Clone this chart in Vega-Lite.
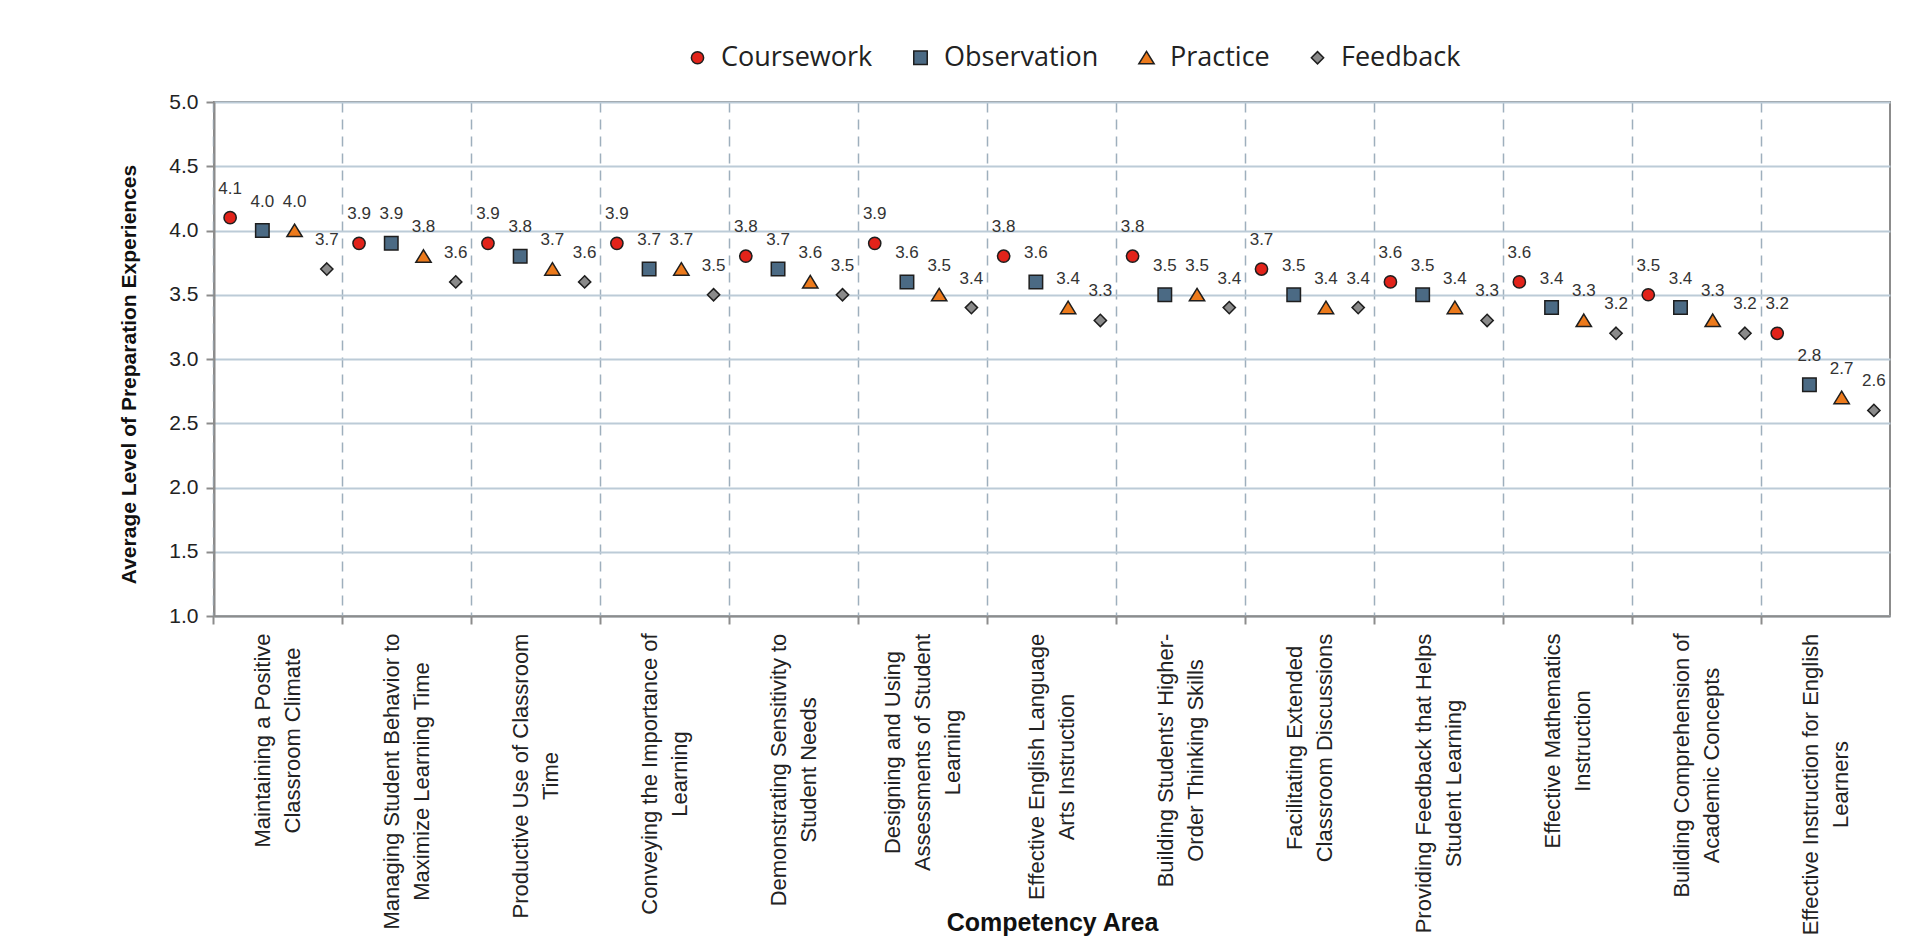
{
  "$schema": "https://vega.github.io/schema/vega-lite/v6.json",
  "width": 1676,
  "height": 514,
  "autosize": {"type": "none"},
  "padding": {"left": 214, "top": 102, "right": 31, "bottom": 326},
  "background": "white",
  "config": {
    "font": "Liberation Sans",
    "view": {"stroke": "#8c8c8c", "strokeWidth": 2}
  },
  "data": {
    "values": [
      {"area": "Maintaining a Positive|Classroom Climate", "series": "Coursework", "value": 4.1},
      {"area": "Maintaining a Positive|Classroom Climate", "series": "Observation", "value": 4.0},
      {"area": "Maintaining a Positive|Classroom Climate", "series": "Practice", "value": 4.0},
      {"area": "Maintaining a Positive|Classroom Climate", "series": "Feedback", "value": 3.7},
      {"area": "Managing Student Behavior to|Maximize Learning Time", "series": "Coursework", "value": 3.9},
      {"area": "Managing Student Behavior to|Maximize Learning Time", "series": "Observation", "value": 3.9},
      {"area": "Managing Student Behavior to|Maximize Learning Time", "series": "Practice", "value": 3.8},
      {"area": "Managing Student Behavior to|Maximize Learning Time", "series": "Feedback", "value": 3.6},
      {"area": "Productive Use of Classroom|Time", "series": "Coursework", "value": 3.9},
      {"area": "Productive Use of Classroom|Time", "series": "Observation", "value": 3.8},
      {"area": "Productive Use of Classroom|Time", "series": "Practice", "value": 3.7},
      {"area": "Productive Use of Classroom|Time", "series": "Feedback", "value": 3.6},
      {"area": "Conveying the Importance of|Learning", "series": "Coursework", "value": 3.9},
      {"area": "Conveying the Importance of|Learning", "series": "Observation", "value": 3.7},
      {"area": "Conveying the Importance of|Learning", "series": "Practice", "value": 3.7},
      {"area": "Conveying the Importance of|Learning", "series": "Feedback", "value": 3.5},
      {"area": "Demonstrating Sensitivity to|Student Needs", "series": "Coursework", "value": 3.8},
      {"area": "Demonstrating Sensitivity to|Student Needs", "series": "Observation", "value": 3.7},
      {"area": "Demonstrating Sensitivity to|Student Needs", "series": "Practice", "value": 3.6},
      {"area": "Demonstrating Sensitivity to|Student Needs", "series": "Feedback", "value": 3.5},
      {"area": "Designing and Using|Assessments of Student|Learning", "series": "Coursework", "value": 3.9},
      {"area": "Designing and Using|Assessments of Student|Learning", "series": "Observation", "value": 3.6},
      {"area": "Designing and Using|Assessments of Student|Learning", "series": "Practice", "value": 3.5},
      {"area": "Designing and Using|Assessments of Student|Learning", "series": "Feedback", "value": 3.4},
      {"area": "Effective English Language|Arts Instruction", "series": "Coursework", "value": 3.8},
      {"area": "Effective English Language|Arts Instruction", "series": "Observation", "value": 3.6},
      {"area": "Effective English Language|Arts Instruction", "series": "Practice", "value": 3.4},
      {"area": "Effective English Language|Arts Instruction", "series": "Feedback", "value": 3.3},
      {"area": "Building Students' Higher-|Order Thinking Skills", "series": "Coursework", "value": 3.8},
      {"area": "Building Students' Higher-|Order Thinking Skills", "series": "Observation", "value": 3.5},
      {"area": "Building Students' Higher-|Order Thinking Skills", "series": "Practice", "value": 3.5},
      {"area": "Building Students' Higher-|Order Thinking Skills", "series": "Feedback", "value": 3.4},
      {"area": "Facilitating Extended|Classroom Discussions", "series": "Coursework", "value": 3.7},
      {"area": "Facilitating Extended|Classroom Discussions", "series": "Observation", "value": 3.5},
      {"area": "Facilitating Extended|Classroom Discussions", "series": "Practice", "value": 3.4},
      {"area": "Facilitating Extended|Classroom Discussions", "series": "Feedback", "value": 3.4},
      {"area": "Providing Feedback that Helps|Student Learning", "series": "Coursework", "value": 3.6},
      {"area": "Providing Feedback that Helps|Student Learning", "series": "Observation", "value": 3.5},
      {"area": "Providing Feedback that Helps|Student Learning", "series": "Practice", "value": 3.4},
      {"area": "Providing Feedback that Helps|Student Learning", "series": "Feedback", "value": 3.3},
      {"area": "Effective Mathematics|Instruction", "series": "Coursework", "value": 3.6},
      {"area": "Effective Mathematics|Instruction", "series": "Observation", "value": 3.4},
      {"area": "Effective Mathematics|Instruction", "series": "Practice", "value": 3.3},
      {"area": "Effective Mathematics|Instruction", "series": "Feedback", "value": 3.2},
      {"area": "Building Comprehension of|Academic Concepts", "series": "Coursework", "value": 3.5},
      {"area": "Building Comprehension of|Academic Concepts", "series": "Observation", "value": 3.4},
      {"area": "Building Comprehension of|Academic Concepts", "series": "Practice", "value": 3.3},
      {"area": "Building Comprehension of|Academic Concepts", "series": "Feedback", "value": 3.2},
      {"area": "Effective Instruction for English|Learners", "series": "Coursework", "value": 3.2},
      {"area": "Effective Instruction for English|Learners", "series": "Observation", "value": 2.8},
      {"area": "Effective Instruction for English|Learners", "series": "Practice", "value": 2.7},
      {"area": "Effective Instruction for English|Learners", "series": "Feedback", "value": 2.6}
    ]
  },
  "encoding": {
    "x": {
      "field": "area",
      "type": "nominal",
      "sort": null,
      "scale": {"type": "band", "paddingInner": 0, "paddingOuter": 0},
      "axis": {
        "bandPosition": 0,
        "labelAngle": -90,
        "labelAlign": "center",
        "labelBaseline": "middle",
        "labelExpr": "split(datum.label, '|')",
        "labelFontSize": 22,
        "labelLineHeight": 30,
        "labelOffset": {
          "condition": {"test": "indexof(datum.value, 'Designing') >= 0", "value": -30},
          "value": -15
        },
        "labelPadding": {
          "condition": [
            {"test": "indexof(datum.value, 'Maintaining') >= 0", "value": 116},
            {"test": "indexof(datum.value, 'Managing') >= 0", "value": 157},
            {"test": "indexof(datum.value, 'Productive') >= 0", "value": 151.5},
            {"test": "indexof(datum.value, 'Conveying') >= 0", "value": 149.5},
            {"test": "indexof(datum.value, 'Demonstrating') >= 0", "value": 145.5},
            {"test": "indexof(datum.value, 'Designing') >= 0", "value": 128},
            {"test": "indexof(datum.value, 'Language') >= 0", "value": 142.5},
            {"test": "indexof(datum.value, 'Higher') >= 0", "value": 136},
            {"test": "indexof(datum.value, 'Facilitating') >= 0", "value": 123.5},
            {"test": "indexof(datum.value, 'Providing') >= 0", "value": 159},
            {"test": "indexof(datum.value, 'Mathematics') >= 0", "value": 116.5},
            {"test": "indexof(datum.value, 'Comprehension') >= 0", "value": 141},
            {"test": "indexof(datum.value, 'Learners') >= 0", "value": 160}
          ],
          "value": 140
        },
        "labelLimit": 500,
        "labelOverlap": false,
        "labelColor": "#222222",
        "tickSize": 8,
        "tickColor": "#8c8c8c",
        "tickWidth": 2,
        "domainColor": "#8c8c8c",
        "domainWidth": 2,
        "grid": true,
        "gridColor": "#9eafbd",
        "gridDash": [10, 7],
        "gridWidth": 1.5,
        "title": "Competency Area",
        "titleFontSize": 25,
        "titleFontWeight": "bold",
        "titleColor": "#111111",
        "titleY": 314,
        "titleBaseline": "alphabetic"
      }
    },
    "xOffset": {
      "field": "series",
      "type": "nominal",
      "sort": ["Coursework", "Observation", "Practice", "Feedback"]
    },
    "y": {
      "field": "value",
      "type": "quantitative",
      "scale": {"domain": [1, 5], "nice": false, "zero": false},
      "axis": {
        "values": [1, 1.5, 2, 2.5, 3, 3.5, 4, 4.5, 5],
        "format": ".1f",
        "grid": true,
        "gridColor": "#bccbd7",
        "gridWidth": 2,
        "domainColor": "#8c8c8c",
        "domainWidth": 2,
        "tickColor": "#8c8c8c",
        "tickSize": 8,
        "tickWidth": 2,
        "labelFontSize": 21,
        "labelPadding": 8,
        "labelColor": "#222222",
        "title": "Average Level of Preparation Experiences",
        "titleFontSize": 21,
        "titleFontWeight": "bold",
        "titleColor": "#111111",
        "titleX": -85,
        "titleY": 272,
        "titleAlign": "center",
        "titleBaseline": "middle"
      }
    }
  },
  "layer": [
    {
      "mark": {"type": "point", "filled": true, "opacity": 1, "stroke": "#1e1e1e", "strokeWidth": 1.5, "size": 150},
      "encoding": {
        "color": {
          "field": "series",
          "type": "nominal",
          "scale": {
            "domain": ["Coursework", "Observation", "Practice", "Feedback"],
            "range": ["#e2231a", "#4b6a84", "#ec7a1c", "#8a8a8a"]
          },
          "legend": {
            "orient": "none",
            "legendX": 470,
            "legendY": -58,
            "direction": "horizontal",
            "columns": 4,
            "title": null,
            "labelFont": "Open Sans",
            "labelFontSize": 27,
            "labelColor": "#222222",
            "symbolSize": 150,
            "symbolStrokeColor": "#1e1e1e",
            "symbolStrokeWidth": 1.5,
            "labelOffset": 10,
            "columnPadding": 34
          }
        },
        "shape": {
          "field": "series",
          "type": "nominal",
          "scale": {
            "domain": ["Coursework", "Observation", "Practice", "Feedback"],
            "range": ["circle", "M-1.1,-1.1H1.1V1.1H-1.1Z", "M0,-1.05L1.25,1.0L-1.25,1.0Z", "M0,-1L1,0L0,1L-1,0Z"]
          },
          "legend": {
            "orient": "none",
            "legendX": 470,
            "legendY": -58,
            "direction": "horizontal",
            "columns": 4,
            "title": null,
            "labelFont": "Open Sans",
            "labelFontSize": 27,
            "labelColor": "#222222",
            "symbolSize": 150,
            "symbolStrokeColor": "#1e1e1e",
            "symbolStrokeWidth": 1.5,
            "labelOffset": 10,
            "columnPadding": 34
          }
        }
      }
    },
    {
      "mark": {"type": "text", "baseline": "alphabetic", "align": "center", "dy": -24, "fontSize": 17, "color": "#333333"},
      "encoding": {
        "text": {"field": "value", "type": "quantitative", "format": ".1f"}
      }
    }
  ]
}
